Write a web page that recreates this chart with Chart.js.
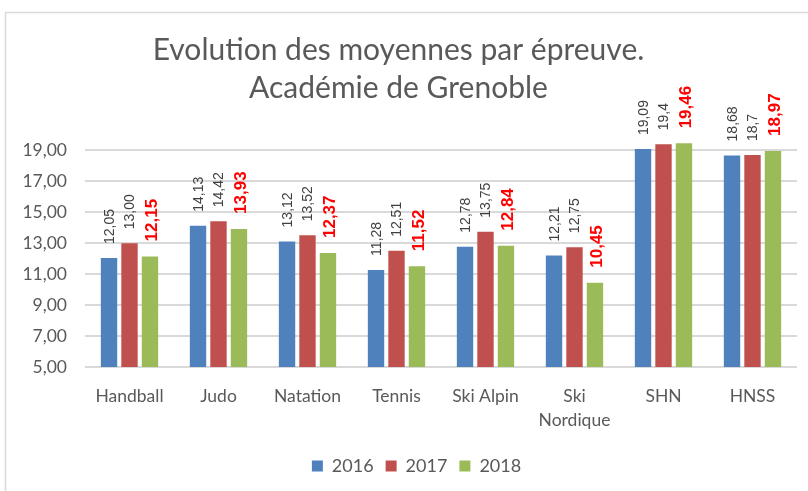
<!DOCTYPE html>
<html>
<head>
<meta charset="utf-8">
<script src="https://cdn.jsdelivr.net/npm/chart.js@4.4.1/dist/chart.umd.min.js"></script>
<style>
  html, body { margin: 0; padding: 0; background: #ffffff; }
  #wrap { position: absolute; left: 0; top: 0; width: 808px; height: 491px; }
</style>
</head>
<body>
<div id="wrap"><canvas id="c" width="808" height="491"></canvas></div>
<script>
// ---- Data ----
const categories = ['Handball', 'Judo', 'Natation', 'Tennis', 'Ski Alpin', ['Ski', 'Nordique'], 'SHN', 'HNSS'];
const seriesNames = ['2016', '2017', '2018'];
const labels2016 = ['12,05', '14,13', '13,12', '11,28', '12,78', '12,21', '19,09', '18,68'];
const labels2017 = ['13,00', '14,42', '13,52', '12,51', '13,75', '12,75', '19,4', '18,7'];
const labels2018 = ['12,15', '13,93', '12,37', '11,52', '12,84', '10,45', '19,46', '18,97'];
const yTicks = [5, 7, 9, 11, 13, 15, 17, 19];
const titleLines = ['Evolution des moyennes par épreuve.', 'Académie de Grenoble'];

const toNum = s => parseFloat(s.replace(',', '.'));
const values2016 = labels2016.map(toNum);
const values2017 = labels2017.map(toNum);
const values2018 = labels2018.map(toNum);

const colors = ['#4f81bd', '#c0504d', '#9bbb59'];
const labelTexts = [labels2016, labels2017, labels2018];
const labelStyles = [
  { font: '14px "Liberation Sans"', color: '#404040', offset: 14, dx: 1 },
  { font: '14px "Liberation Sans"', color: '#404040', offset: 14, dx: 1 },
  { font: 'bold 17px "Liberation Sans"', color: '#ff0000', offset: 15, dx: 2 }
];

const frame = {
  id: 'frame',
  beforeDraw(chart) {
    const ctx = chart.ctx;
    ctx.save();
    ctx.fillStyle = '#ffffff';
    ctx.fillRect(0, 0, chart.width, chart.height);
    ctx.strokeStyle = '#d9d9d9';
    ctx.lineWidth = 1.5;
    ctx.strokeRect(5.5, 12.5, 900, 900);
    ctx.restore();
  }
};

const legendShift = {
  id: 'legendShift',
  afterLayout(chart) {
    if (chart.legend) {
      chart.legend.left += 18;
      chart.legend.right += 18;
    }
  }
};

const valueLabels = {
  id: 'valueLabels',
  afterDatasetsDraw(chart) {
    const ctx = chart.ctx;
    chart.data.datasets.forEach((ds, i) => {
      const meta = chart.getDatasetMeta(i);
      const st = labelStyles[i];
      meta.data.forEach((bar, j) => {
        ctx.save();
        ctx.translate(bar.x + st.dx, bar.y - st.offset);
        ctx.rotate(-Math.PI / 2);
        ctx.font = st.font;
        ctx.fillStyle = st.color;
        ctx.textAlign = 'left';
        ctx.textBaseline = 'middle';
        ctx.fillText(labelTexts[i][j], 0, 0);
        ctx.restore();
      });
    });
  }
};

new Chart(document.getElementById('c'), {
  type: 'bar',
  data: {
    labels: categories,
    datasets: [
      { label: seriesNames[0], data: values2016, backgroundColor: colors[0] },
      { label: seriesNames[1], data: values2017, backgroundColor: colors[1] },
      { label: seriesNames[2], data: values2018, backgroundColor: colors[2] }
    ]
  },
  options: {
    responsive: false,
    animation: false,
    devicePixelRatio: 1,
    categoryPercentage: 0.69,
    barPercentage: 0.8,
    layout: { padding: { left: 0, right: 11, top: 0, bottom: 6 } },
    plugins: {
      title: {
        display: true,
        text: titleLines,
        color: '#595959',
        font: { family: 'Lato', size: 30, weight: '400', lineHeight: 1.267 },
        padding: { top: 31, bottom: 28 }
      },
      legend: {
        position: 'bottom',
        labels: {
          boxWidth: 11, boxHeight: 11,
          color: '#595959',
          font: { family: 'Lato', size: 18 },
          padding: 12
        }
      },
      tooltip: { enabled: false }
    },
    scales: {
      x: {
        grid: { display: false, drawTicks: false },
        border: { display: false },
        ticks: {
          color: '#595959',
          font: { family: 'Lato', size: 17.5, lineHeight: 1.37 },
          padding: 17,
          maxRotation: 0, autoSkip: false
        },
        afterFit: s => { s.height = 78; }
      },
      y: {
        min: 5, max: 20,
        grid: { color: '#d9d9d9', lineWidth: 2, drawTicks: false },
        border: { display: false },
        ticks: {
          color: '#595959',
          font: { family: 'Lato', size: 17.5 },
          padding: 18,
          callback: v => v.toFixed(2).replace('.', ',')
        },
        afterBuildTicks: s => { s.ticks = yTicks.map(v => ({ value: v })); },
        afterFit: s => { s.width = 85; }
      }
    }
  },
  plugins: [frame, legendShift, valueLabels]
});
</script>
</body>
</html>
